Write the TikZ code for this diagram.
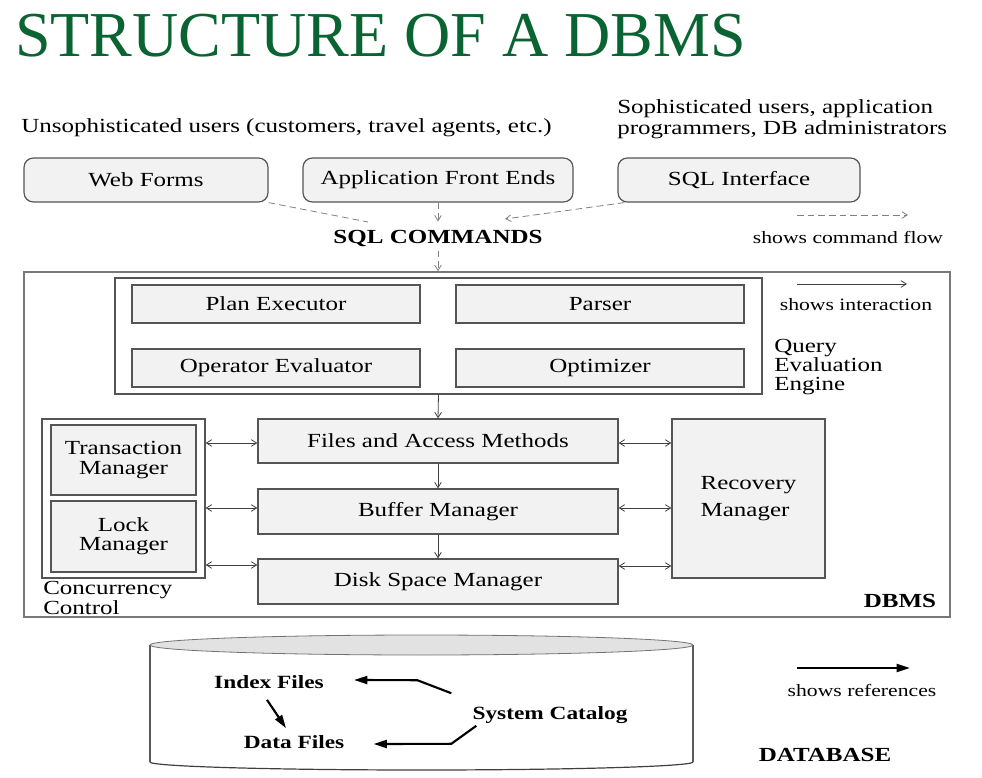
\documentclass[tikz,border=0pt]{standalone}
\usepackage{fontspec}
\setmainfont{Liberation Serif}[FakeStretch=1.25]
\newfontfamily\titlefont{Liberation Serif}
\usetikzlibrary{arrows.meta,calc}
\definecolor{titlegreen}{RGB}{10,100,50}
\definecolor{boxfill}{RGB}{242,242,242}
\definecolor{boxline}{RGB}{85,85,85}
\definecolor{outerline}{RGB}{120,120,120}
\definecolor{dbtop}{RGB}{226,226,226}
\tikzset{
  span/.style args={#1/#2/#3/#4}{minimum width={(#3-#1)*0.75pt}, minimum height={(#4-#2)*0.75pt}, at={({(#1+#3)/2},{(#2+#4)/2})}},
  mainfont/.style={font=\fontsize{15}{16}\selectfont},
  smallfont/.style={font=\fontsize{13}{14}\selectfont},
  rbox/.style={draw=boxline, fill=boxfill, rounded corners=7pt, line width=0.9pt, inner sep=0pt, mainfont},
  ibox/.style={draw=boxline, fill=boxfill, line width=1pt, inner sep=0pt, mainfont, align=center},
  frame/.style={draw=boxline, line width=1pt, inner sep=0pt},
  flow/.style={draw=gray, dash pattern=on 5pt off 3pt, line width=0.6pt},
  flowtip/.style={flow, -{Straight Barb[length=4pt,width=5pt]}},
  inter/.style={draw=black!75, line width=0.6pt},
  itip/.style={inter, -{Straight Barb[length=4pt,width=5pt]}},
  dtip/.style={inter, {Straight Barb[length=4pt,width=5pt]}-{Straight Barb[length=4pt,width=5pt]}},
  refarrow/.style={line width=1.6pt, -{Triangle[length=10pt,width=6pt]}},
  lbl/.style={inner sep=0pt, mainfont},
  dblbl/.style={inner sep=0pt, font=\bfseries\fontsize{14}{15}\selectfont},
}
\begin{document}
\begin{tikzpicture}[x=0.75pt,y=-0.75pt]
\useasboundingbox (0,0) rectangle (982,778);

% title
\node[inner sep=0pt, anchor=base west, text=titlegreen, font=\titlefont\fontsize{48}{50}\selectfont] (title) at (15,56) {STRUCTURE OF A DBMS};

% users
\node[lbl, anchor=west] (unsoph) at (21,128) {Unsophisticated users (customers, travel agents, etc.)};
\node[lbl, anchor=west, align=left, font=\fontsize{15}{15.75}\selectfont] (soph) at (617,119) {Sophisticated users, application\\programmers, DB administrators};

% front ends
\node[rbox, span=24/158/268/202] (web) {Web Forms};
\node[rbox, span=303/158/573/202] (app) {Application Front Ends};
\node[rbox, span=618/158/860/202] (sqli) {SQL Interface};

\node[lbl, font=\bfseries\fontsize{15}{16}\selectfont] (sqlc) at (438,238) {SQL COMMANDS};

\coordinate (webend) at (368,222);
\coordinate (sqliend) at (505,219);
\draw[flow] (web.south east) -- (webend);
\draw[flowtip] ([shift={(7,0)}]sqli.south west) -- (sqliend);
\draw[flowtip] (app.south) -- ([yshift=6pt]sqlc.north);

% DBMS frame
\node[frame, draw=outerline, line width=1.2pt, span=24/272/950/617] (dbms) {};
\draw[flowtip] ([yshift=-3pt]sqlc.south) -- (sqlc.south |- dbms.north);

% legends
\coordinate (cfa) at (797,215); \coordinate (cfb) at (908,215);
\draw[flowtip] (cfa) -- (cfb);
\node[lbl, smallfont] (cfl) at (848,237) {shows command flow};
\coordinate (ia) at (797,284); \coordinate (ib) at (907,284);
\draw[itip] (ia) -- (ib);
\node[lbl, smallfont] (il) at (856,305) {shows interaction};

% query evaluation engine
\node[frame, span=115/278/762/394] (qee) {};
\node[ibox, span=132/285/420/323] (pe) {Plan Executor};
\node[ibox, span=456/285/744/323] (parser) {Parser};
\node[ibox, span=132/349/420/387] (opev) {Operator Evaluator};
\node[ibox, span=456/349/744/387] (opt) {Optimizer};
\node[lbl, anchor=west, align=left, font=\fontsize{15}{14.6}\selectfont] (qeel) at (774,367) {Query\\Evaluation\\Engine};

% storage layers
\node[ibox, span=258/419/618/463] (fam) {Files and Access Methods};
\node[ibox, span=258/489/618/534] (buf) {Buffer Manager};
\node[ibox, span=258/559/618/604] (disk) {Disk Space Manager};
\draw[itip] (qee.south) -- (fam.north);
\draw[itip] (fam.south) -- (buf.north);
\draw[itip] (buf.south) -- (disk.north);

% concurrency control
\node[frame, span=42/419/205/578] (cc) {};
\node[ibox, span=51/425/196/495, font=\fontsize{15}{14.3}\selectfont] (tm) {Transaction\\Manager};
\node[ibox, span=51/501/196/572, font=\fontsize{15}{14.3}\selectfont] (lm) {Lock\\Manager};
\node[lbl, anchor=west, align=left, font=\fontsize{15}{13}\selectfont] (ccl) at (43,598) {Concurrency\\Control};

% recovery manager
\node[ibox, span=672/419/825/578, align=left, font=\fontsize{15}{20}\selectfont] (rm) {Recovery\\Manager};

\draw[dtip] (cc.east |- 0,443) -- (fam.west |- 0,443);
\draw[dtip] (cc.east |- 0,508) -- (buf.west |- 0,508);
\draw[dtip] (cc.east |- 0,565) -- (disk.west |- 0,565);
\draw[dtip] (fam.east |- 0,443) -- (rm.west |- 0,443);
\draw[dtip] (buf.east |- 0,508) -- (rm.west |- 0,508);
\draw[dtip] (disk.east |- 0,566) -- (rm.west |- 0,566);

\node[lbl, font=\bfseries\fontsize{15}{16}\selectfont] (dbmsl) at (900,601) {DBMS};

% database cylinder
\draw[draw=black!65, line width=0.8pt] (150,645) -- (150,762);
\draw[draw=black!65, line width=0.8pt] (693,645) -- (693,762);
\draw[draw=black!75, line width=0.9pt] (150,762) arc[start angle=180, end angle=0, x radius=271.5, y radius=8];
\draw[fill=dbtop, draw=black!55, line width=0.6pt] (421.5,645) ellipse [x radius=271.5, y radius=10];

\node[dblbl] (idx) at (269,682) {Index Files};
\node[dblbl] (dat) at (294,742) {Data Files};
\node[dblbl] (cat) at (550,715) {System Catalog};
\draw[refarrow] ([shift={(-2,11)}]idx.south) -- ([shift={(-8,-7)}]dat.north);
\draw[refarrow] ([shift={(-21,-13)}]cat.north west) -- ++(-34,-13) -- ([shift={(30,-2)}]idx.east);
\draw[refarrow] ([shift={(4,2)}]cat.south west) -- ++(-25,18) -- ([shift={(29,2)}]dat.east);

\coordinate (ra) at (797,668); \coordinate (rb) at (910,668);
\draw[refarrow] (ra) -- (rb);
\node[lbl, smallfont] (rl) at (862,690) {shows references};
\node[lbl, font=\bfseries\fontsize{15}{16}\selectfont] (dbl) at (825,755) {DATABASE};
\end{tikzpicture}
\end{document}
